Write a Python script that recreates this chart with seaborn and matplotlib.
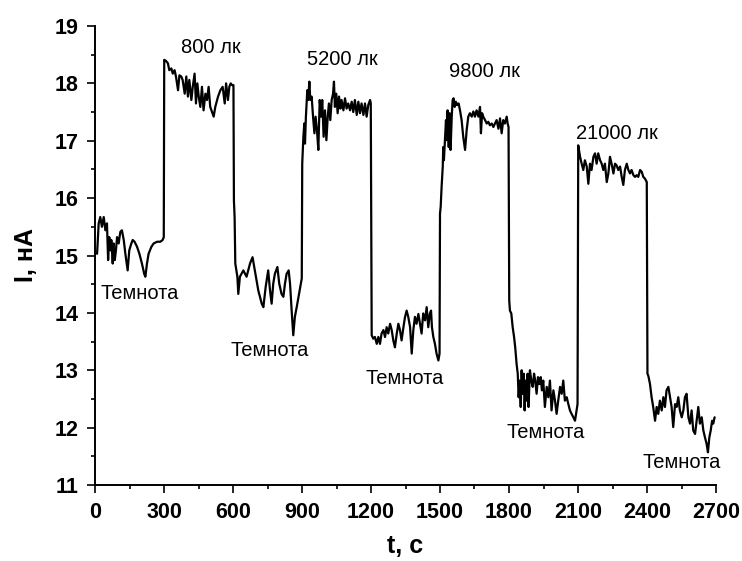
import matplotlib
matplotlib.use("Agg")
import matplotlib.pyplot as plt
from matplotlib.ticker import MultipleLocator, AutoMinorLocator
import pandas as pd
import seaborn as sns

# Photocurrent trace, one list pair per phase
t_dark1 = [9, 16, 23, 30, 38, 45, 52, 57, 62, 67, 71, 77, 81, 86, 91, 96, 103, 110, 117, 125,
           132, 142, 149, 158, 164, 172, 183, 193, 204, 214, 219, 226, 233, 245, 255, 270, 284, 294, 299]
i_dark1 = [15.03, 15.56, 15.67, 15.50, 15.67, 15.44, 15.56, 14.92, 15.32, 15.09, 15.27, 14.86, 15.21,
           14.92, 15.09, 15.32, 15.21, 15.41, 15.44, 15.27, 15.03, 14.74, 15.09, 15.21, 15.27, 15.24,
           15.15, 15.03, 14.86, 14.68, 14.63, 14.86, 15.03, 15.15, 15.21, 15.24, 15.24, 15.27, 15.32]

t_800 = [301, 309, 317, 323, 332, 338, 346, 352, 361, 367, 375, 381, 390, 397, 404, 410, 419, 425,
         433, 439, 445, 451, 458, 465, 472, 480, 487, 494, 501, 509, 516, 523, 535, 545, 555, 564,
         570, 578, 584, 590, 596, 602]
i_800 = [18.41, 18.39, 18.35, 18.23, 18.26, 18.17, 18.23, 18.12, 17.88, 18.14, 18.12, 18.06, 17.82,
         18.12, 17.77, 18.06, 17.71, 17.94, 18.17, 17.65, 18.00, 17.77, 17.59, 17.94, 17.53, 17.82,
         17.71, 17.94, 17.59, 17.50, 17.42, 17.59, 17.77, 17.88, 17.94, 17.65, 18.00, 17.71, 17.94,
         18.00, 17.97, 17.97]

t_dark2 = [604, 607, 610, 619, 623, 630, 645, 659, 674, 685, 695, 710, 725, 732, 742, 753, 761, 768,
           775, 782, 793, 801, 811, 819, 826, 833, 842, 848, 855, 862, 869, 877, 887, 895, 899]
i_dark2 = [15.96, 15.67, 14.86, 14.63, 14.33, 14.63, 14.74, 14.63, 14.86, 14.97, 14.74, 14.39, 14.16,
           14.10, 14.45, 14.74, 14.39, 14.16, 14.51, 14.68, 14.80, 14.51, 14.33, 14.28, 14.51, 14.68,
           14.74, 14.51, 14.04, 13.61, 13.93, 14.10, 14.33, 14.51, 14.60]

t_5200 = [901, 906, 910, 913, 917, 923, 927, 932, 936, 942, 948, 954, 959, 965, 971, 977, 983, 988,
          994, 1000, 1006, 1012, 1017, 1023, 1029, 1035, 1039, 1043, 1049, 1055, 1061, 1067, 1072,
          1080, 1087, 1094, 1101, 1109, 1116, 1123, 1130, 1138, 1145, 1152, 1159, 1167, 1174, 1181,
          1188, 1196, 1199]
i_5200 = [16.60, 17.07, 17.30, 16.95, 17.42, 17.88, 17.71, 18.03, 17.71, 17.77, 17.42, 17.13, 17.42,
          17.19, 16.84, 17.71, 17.42, 17.71, 17.07, 17.53, 17.01, 17.42, 17.65, 17.36, 17.71, 17.82,
          18.03, 17.59, 17.82, 17.48, 17.77, 17.56, 17.71, 17.53, 17.74, 17.56, 17.65, 17.53, 17.68,
          17.50, 17.71, 17.45, 17.68, 17.48, 17.65, 17.45, 17.65, 17.42, 17.62, 17.71, 17.65]

t_dark3 = [1203, 1210, 1217, 1225, 1232, 1239, 1246, 1254, 1261, 1268, 1275, 1283, 1290, 1297, 1304,
           1312, 1319, 1326, 1333, 1341, 1348, 1355, 1362, 1370, 1377, 1384, 1391, 1398, 1406, 1413,
           1420, 1427, 1435, 1442, 1449, 1456, 1461, 1465, 1471, 1478, 1485, 1493, 1498]
i_dark3 = [13.61, 13.55, 13.58, 13.46, 13.58, 13.46, 13.64, 13.70, 13.58, 13.75, 13.64, 13.81, 13.70,
           13.52, 13.40, 13.64, 13.81, 13.70, 13.52, 13.75, 13.93, 14.04, 13.93, 13.75, 13.29, 13.70,
           13.93, 13.81, 13.98, 13.81, 13.64, 13.99, 13.87, 14.10, 13.75, 13.99, 14.04, 13.75, 13.58,
           13.46, 13.29, 13.17, 13.29]

t_9800 = [1500, 1503, 1507, 1512, 1514, 1517, 1522, 1526, 1529, 1533, 1538, 1542, 1546, 1551, 1555,
          1559, 1564, 1569, 1575, 1581, 1587, 1594, 1601, 1609, 1616, 1623, 1630, 1638, 1645, 1652,
          1659, 1667, 1674, 1678, 1683, 1688, 1696, 1703, 1710, 1717, 1725, 1732, 1739, 1746, 1754,
          1761, 1768, 1775, 1782, 1790, 1794, 1798]
i_9800 = [15.73, 15.85, 16.20, 16.55, 16.89, 16.66, 17.07, 17.36, 17.01, 17.53, 16.89, 17.48, 16.84,
          17.42, 17.71, 17.74, 17.59, 17.68, 17.62, 17.65, 17.53, 17.36, 17.07, 16.84, 17.19, 17.42,
          17.48, 17.42, 17.51, 17.42, 17.53, 17.42, 17.59, 17.13, 17.48, 17.42, 17.36, 17.30, 17.33,
          17.27, 17.30, 17.24, 17.30, 17.36, 17.21, 17.39, 17.13, 17.36, 17.30, 17.42, 17.30, 17.24]

t_dark4 = [1801, 1804, 1810, 1816, 1822, 1827, 1833, 1838, 1842, 1846, 1851, 1855, 1859, 1864, 1868,
           1872, 1877, 1881, 1885, 1891, 1897, 1903, 1909, 1914, 1920, 1926, 1932, 1938, 1943, 1949,
           1956, 1964, 1971, 1978, 1985, 1993, 2000, 2007, 2014, 2022, 2029, 2036, 2043, 2051, 2058,
           2065, 2072, 2080, 2087, 2094, 2098]
i_dark4 = [14.22, 14.04, 13.99, 13.75, 13.58, 13.40, 13.11, 12.94, 12.53, 12.82, 12.36, 13.00, 12.59,
           12.94, 12.30, 12.82, 12.47, 12.94, 12.36, 13.00, 12.82, 12.71, 12.94, 12.82, 12.59, 12.88,
           12.76, 12.88, 12.65, 12.82, 12.36, 12.71, 12.53, 12.82, 12.30, 12.65, 12.47, 12.24, 12.47,
           12.71, 12.59, 12.82, 12.47, 12.53, 12.41, 12.30, 12.24, 12.18, 12.12, 12.30, 12.41]

t_21000 = [2101, 2109, 2116, 2123, 2130, 2138, 2145, 2152, 2159, 2167, 2174, 2181, 2188, 2196, 2203,
           2210, 2217, 2225, 2232, 2239, 2246, 2254, 2261, 2268, 2275, 2283, 2290, 2297, 2304, 2312,
           2319, 2326, 2333, 2341, 2348, 2355, 2362, 2370, 2377, 2384, 2391, 2399]
i_21000 = [16.92, 16.72, 16.60, 16.49, 16.66, 16.55, 16.25, 16.60, 16.49, 16.72, 16.78, 16.60, 16.78,
           16.66, 16.60, 16.49, 16.60, 16.28, 16.43, 16.72, 16.60, 16.43, 16.60, 16.57, 16.49, 16.55,
           16.37, 16.23, 16.49, 16.60, 16.49, 16.43, 16.49, 16.40, 16.37, 16.40, 16.37, 16.49, 16.46,
           16.37, 16.34, 16.28]

t_dark5 = [2402, 2406, 2413, 2420, 2427, 2435, 2442, 2449, 2456, 2464, 2471, 2478, 2485, 2493, 2500,
           2507, 2514, 2522, 2529, 2536, 2543, 2551, 2558, 2565, 2572, 2580, 2587, 2594, 2601, 2609,
           2616, 2623, 2630, 2638, 2645, 2652, 2659, 2665, 2671, 2677, 2683, 2688, 2694]
i_dark5 = [12.94, 12.90, 12.76, 12.53, 12.36, 12.12, 12.36, 12.24, 12.47, 12.30, 12.53, 12.36, 12.65,
           12.71, 12.53, 12.36, 12.01, 12.41, 12.36, 12.53, 12.30, 12.18, 12.30, 12.53, 12.59, 12.18,
           12.07, 12.30, 11.95, 11.89, 12.12, 12.36, 12.07, 12.18, 11.95, 11.83, 11.72, 11.57, 11.83,
           11.95, 12.12, 12.07, 12.18]

# annotations: text, t, I
labels = ["Темнота", "800 лк", "Темнота", "5200 лк", "Темнота",
          "9800 лк", "Темнота", "21000 лк", "Темнота"]
label_t = [196, 505, 760, 1075, 1348, 1692, 1961, 2268, 2552]
label_i = [14.34, 18.63, 13.35, 18.42, 12.86, 18.21, 11.91, 17.12, 11.39]

x_ticks = list(range(0, 2701, 300))

t_all = (t_dark1 + t_800 + t_dark2 + t_5200 + t_dark3 + t_9800 + t_dark4 + t_21000 + t_dark5)
i_all = (i_dark1 + i_800 + i_dark2 + i_5200 + i_dark3 + i_9800 + i_dark4 + i_21000 + i_dark5)
df = pd.DataFrame({"t": t_all, "I": i_all})

sns.set_style("ticks")
plt.rcParams["font.family"] = ["Liberation Sans", "DejaVu Sans"]
plt.rcParams.update({"text.color": "black", "axes.labelcolor": "black",
                     "xtick.color": "black", "ytick.color": "black"})

fig, ax = plt.subplots(figsize=(7.42, 5.61), dpi=100)
fig.subplots_adjust(left=95 / 742, right=716 / 742, bottom=1 - 485 / 561, top=1 - 26 / 561)

sns.lineplot(data=df, x="t", y="I", ax=ax, color="black", linewidth=1.6,
             sort=False, estimator=None)

for txt, tx, iy in zip(labels, label_t, label_i):
    ax.text(tx, iy, txt, ha="center", va="center", fontsize=14.5, color="black")

ax.set_xlim(0, 2700)
ax.set_ylim(11, 19)
ax.set_xticks(x_ticks)
ax.yaxis.set_major_locator(MultipleLocator(1))
ax.xaxis.set_minor_locator(AutoMinorLocator(2))
ax.yaxis.set_minor_locator(AutoMinorLocator(2))

sns.despine(ax=ax)
for side in ["left", "bottom"]:
    ax.spines[side].set_linewidth(1.4)
    ax.spines[side].set_color("black")

ax.tick_params(which="major", direction="out", length=6, width=1.2, color="black",
               labelsize=15.5, pad=6)
ax.tick_params(which="minor", direction="out", length=3, width=1.2, color="black")
for lab in ax.get_xticklabels() + ax.get_yticklabels():
    lab.set_fontweight("bold")

ax.set_xlabel("t, c", fontsize=18, fontweight="bold", labelpad=8)
ax.set_ylabel("I, нА", fontsize=18, fontweight="bold", labelpad=12)

fig.savefig("out.png", dpi=100)
